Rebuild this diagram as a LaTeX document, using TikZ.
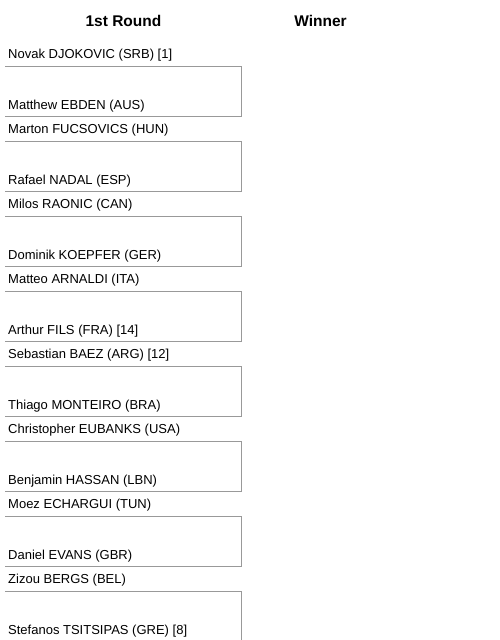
\documentclass[tikz,border=0pt]{standalone}
\usepackage{fontspec}
\setmainfont{Liberation Sans}
\usepackage{xcolor}
\usetikzlibrary{positioning}
\definecolor{bracketgray}{HTML}{999999}

\begin{document}
\begin{tikzpicture}[x=1pt,y=-1pt,
        player/.style={anchor=base west, inner sep=0pt, font={\fontsize{13}{15}\selectfont}},
        roundhead/.style={anchor=base, inner sep=0pt, font={\fontsize{15.5}{18}\selectfont\bfseries}},
        bracket/.style={line width=1pt, bracketgray}]
          \useasboundingbox (0,0) rectangle (499,640);
          %round headers
          \node[roundhead] (round1) at (123.5,26) {1st Round};
          \node[roundhead] (winner) at (320.5,26) {Winner};

          %match 1
          \node[player] (p1) at (8,58.5)  {Novak DJOKOVIC (SRB) [1]};
          \node[player] (p2) at (8,109.5) {Matthew EBDEN (AUS)};
          \draw[bracket] (5,66.5) -- (241,66.5) -- (241,116.5) -- (5,116.5);

          %match 2
          \node[player] (p3) at (8,133.5) {Marton FUCSOVICS (HUN)};
          \node[player] (p4) at (8,184.5) {Rafael NADAL (ESP)};
          \draw[bracket] (5,141.5) -- (241,141.5) -- (241,191.5) -- (5,191.5);

          %match 3
          \node[player] (p5) at (8,208.5) {Milos RAONIC (CAN)};
          \node[player] (p6) at (8,259.5) {Dominik KOEPFER (GER)};
          \draw[bracket] (5,216.5) -- (241,216.5) -- (241,266.5) -- (5,266.5);

          %match 4
          \node[player] (p7) at (8,283.5) {Matteo ARNALDI (ITA)};
          \node[player] (p8) at (8,334.5) {Arthur FILS (FRA) [14]};
          \draw[bracket] (5,291.5) -- (241,291.5) -- (241,341.5) -- (5,341.5);

          %match 5
          \node[player] (p9)  at (8,358.5) {Sebastian BAEZ (ARG) [12]};
          \node[player] (p10) at (8,409.5) {Thiago MONTEIRO (BRA)};
          \draw[bracket] (5,366.5) -- (241,366.5) -- (241,416.5) -- (5,416.5);

          %match 6
          \node[player] (p11) at (8,433.5) {Christopher EUBANKS (USA)};
          \node[player] (p12) at (8,484.5) {Benjamin HASSAN (LBN)};
          \draw[bracket] (5,441.5) -- (241,441.5) -- (241,491.5) -- (5,491.5);

          %match 7
          \node[player] (p13) at (8,508.5) {Moez ECHARGUI (TUN)};
          \node[player] (p14) at (8,559.5) {Daniel EVANS (GBR)};
          \draw[bracket] (5,516.5) -- (241,516.5) -- (241,566.5) -- (5,566.5);

          %match 8 (cut off at the bottom)
          \node[player] (p15) at (8,583.5) {Zizou BERGS (BEL)};
          \node[player] (p16) at (8,634.5) {Stefanos TSITSIPAS (GRE) [8]};
          \draw[bracket] (5,591.5) -- (241,591.5) -- (241,640);
    \end{tikzpicture}
\end{document}
